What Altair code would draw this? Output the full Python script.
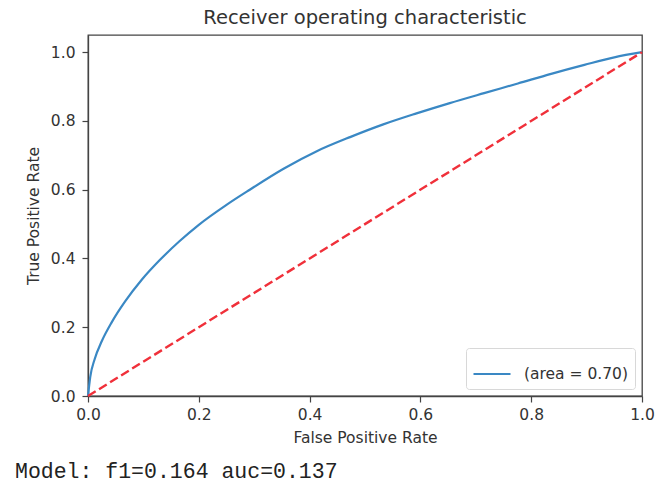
import altair as alt
import pandas as pd

# ROC curve of the model (false positive rate vs true positive rate)
fpr = [0.0, 0.004, 0.012, 0.025, 0.043, 0.067, 0.097, 0.130, 0.165, 0.200,
       0.250, 0.292, 0.353, 0.413, 0.473, 0.533, 0.593, 0.653, 0.715, 0.776,
       0.836, 0.896, 0.950, 1.0]
tpr = [0.0, 0.055, 0.107, 0.160, 0.215, 0.275, 0.338, 0.396, 0.450, 0.498,
       0.556, 0.600, 0.661, 0.712, 0.753, 0.790, 0.822, 0.852, 0.881, 0.909,
       0.937, 0.963, 0.985, 1.0]
roc_label = "(area = 0.70)"

# chance diagonal
diag_x = [0.0, 1.0]
diag_y = [0.0, 1.0]

ticks = [0.0, 0.2, 0.4, 0.6, 0.8, 1.0]
footer = "Model: f1=0.164 auc=0.137"

roc = pd.DataFrame({"fpr": fpr, "tpr": tpr, "series": roc_label})
diag = pd.DataFrame({"fpr": diag_x, "tpr": diag_y})
note = pd.DataFrame({"text": [footer]})

TXT = "#333333"
FONT = "DejaVu Sans"

x_enc = alt.X("fpr:Q", title="False Positive Rate",
              scale=alt.Scale(domain=[0, 1], nice=False, zero=False),
              axis=alt.Axis(values=ticks, format=".1f"))
y_enc = alt.Y("tpr:Q", title="True Positive Rate",
              scale=alt.Scale(domain=[0, 1.05], nice=False, zero=False),
              axis=alt.Axis(values=ticks, format=".1f"))

curve = alt.Chart(roc).mark_line(strokeWidth=2.2, interpolate="monotone").encode(
    x=x_enc,
    y=y_enc,
    order="fpr:Q",
    color=alt.Color("series:N", scale=alt.Scale(range=["#3a88c4"]),
                    legend=alt.Legend(title=None, orient="bottom-right",
                                      symbolType="stroke", symbolSize=1369,
                                      symbolStrokeWidth=2.2)),
)

chance = alt.Chart(diag).mark_line(
    color="#f0303a", strokeWidth=2.4, strokeDash=[9, 4]
).encode(x="fpr:Q", y="tpr:Q")

caption = alt.Chart(note).mark_text(
    align="left", baseline="alphabetic", font="Liberation Mono",
    fontSize=21.5, color="#222222"
).encode(x=alt.value(-73), y=alt.value(443), text="text:N")

chart = alt.layer(curve, chance, caption).properties(
    width=554,
    height=361,
    title=alt.TitleParams("Receiver operating characteristic", fontSize=19.5,
                          font=FONT, fontWeight="normal", color=TXT,
                          anchor="middle", offset=7),
    autosize=alt.AutoSizeParams(type="none"),
    padding={"left": 88, "top": 35, "right": 15, "bottom": 91},
).configure_view(
    stroke="#444444", strokeWidth=1.3
).configure_axis(
    grid=False,
    domainColor="#444444", domainWidth=1.3,
    tickColor="#444444", tickWidth=1.2, tickSize=6,
    labelFont=FONT, labelFontSize=15.5, labelColor=TXT,
    titleFont=FONT, titleFontSize=15.5, titleColor=TXT, titleFontWeight="normal",
    labelFlush=False,
).configure_axisX(
    labelPadding=5, titlePadding=8
).configure_axisY(
    labelPadding=7, titlePadding=9
).configure_legend(
    labelFont=FONT, labelFontSize=15.5, labelColor=TXT,
    padding=6, offset=7, cornerRadius=3,
    strokeColor="#d8d8d8", fillColor="white", labelOffset=12,
)

chart.save("out.html", embed_options={"renderer": "svg", "actions": False})
